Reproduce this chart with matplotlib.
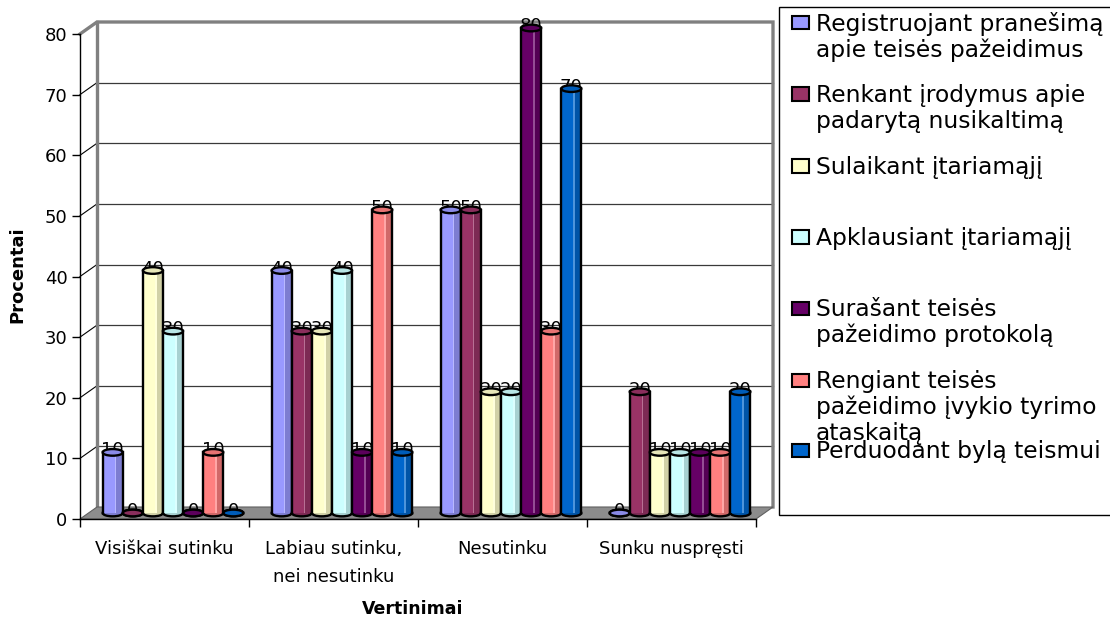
import matplotlib
matplotlib.use('Agg')
import matplotlib.pyplot as plt
from matplotlib.patches import Rectangle, Ellipse, Polygon
from matplotlib.colors import to_rgb
import numpy as np

plt.rcParams['font.family'] = ['DejaVu Sans']

categories = ['Visiškai sutinku', 'Labiau sutinku,\nnei nesutinku', 'Nesutinku', 'Sunku nuspręsti']

series_names = [
    'Registruojant pranešimą\napie teisės pažeidimus',
    'Renkant įrodymus apie\npadarytą nusikaltimą',
    'Sulaikant įtariamąjį',
    'Apklausiant įtariamąjį',
    'Surašant teisės\npažeidimo protokolą',
    'Rengiant teisės\npažeidimo įvykio tyrimo\nataskaitą',
    'Perduodant bylą teismui',
]
series_colors = ['#9999FF', '#993366', '#FFFFCC', '#CCFFFF', '#660066', '#FF8080', '#0066CC']

registruojant = [10, 40, 50, 0]
renkant = [0, 30, 50, 20]
sulaikant = [40, 30, 20, 10]
apklausiant = [30, 40, 20, 10]
surasant = [0, 10, 80, 10]
rengiant = [10, 50, 30, 10]
perduodant = [0, 10, 70, 20]
series_values = [registruojant, renkant, sulaikant, apklausiant, surasant, rengiant, perduodant]

y_ticks = list(range(0, 90, 10))

W, H = 1110, 618
fig = plt.figure(figsize=(W / 100, H / 100), dpi=100)
fig.patch.set_facecolor('white')

def fx(px):
    return px / W

def fy(py):
    return 1 - py / H

ax = fig.add_axes([fx(80), fy(519), (756 - 80) / W, (519 - 34) / H])
ax.set_xlim(-0.5, 3.5)
ax.set_ylim(0, 80)
ax.set_facecolor('none')

# depth of the 3d box, in data units
DX = 17 / 169.0
DY = 12 / (485 / 80.0)
BW = 20.1 / 169.0
EH = 1.1
LW = 1.7

grey = '#808080'
x0, x1 = -0.5, 3.5

# floor
ax.add_patch(Polygon([(x0, 0), (x1, 0), (x1 + DX, DY), (x0 + DX, DY)], closed=True,
                     fc='#8c8c8c', ec='#606060', lw=0.8, zorder=1, clip_on=False))
# back wall grid and frame
for t in y_ticks[1:-1]:
    ax.plot([x0 + DX, x1 + DX], [t + DY, t + DY], color='#3a3a3a', lw=0.9, zorder=0.5, clip_on=False)
    ax.plot([x0, x0 + DX], [t, t + DY], color='black', lw=0.8, zorder=0.5, clip_on=False)
ax.plot([x0, x0 + DX, x1 + DX, x1 + DX], [80, 80 + DY, 80 + DY, DY], color=grey, lw=2.4,
        zorder=0.6, clip_on=False, solid_joinstyle='miter')
ax.plot([x0 + DX, x0 + DX], [DY, 80 + DY], color=grey, lw=2.4, zorder=0.6, clip_on=False)


def cylinder(xc, h, color, z):
    c = np.array(to_rgb(color))
    dark = c * 0.82
    light = c + (1 - c) * 0.3
    yb = DY / 2
    ax.add_patch(Ellipse((xc, yb), BW, EH, fc=dark, ec='black', lw=LW, zorder=z, clip_on=False))
    if h > 0:
        left = xc - BW / 2
        ax.add_patch(Rectangle((left, yb), BW * 0.6, h, fc=c, lw=0, zorder=z + 0.001, clip_on=False))
        ax.add_patch(Rectangle((left + BW * 0.6, yb), BW * 0.08, h, fc=light, lw=0, zorder=z + 0.001, clip_on=False))
        ax.add_patch(Rectangle((left + BW * 0.68, yb), BW * 0.32, h, fc=dark, lw=0, zorder=z + 0.001, clip_on=False))
        ax.plot([left, left], [yb, yb + h], color='black', lw=LW, zorder=z + 0.002, clip_on=False)
        ax.plot([left + BW, left + BW], [yb, yb + h], color='black', lw=LW, zorder=z + 0.002, clip_on=False)
    ax.add_patch(Ellipse((xc, yb + h), BW, EH, fc=c * 0.9, ec='black', lw=LW, zorder=z + 0.003, clip_on=False))


n = len(series_values)
for i in range(len(categories)):
    for j, (vals, col) in enumerate(zip(series_values, series_colors)):
        xc = i + DX / 2 + (j - (n - 1) / 2) * BW
        v = vals[i]
        cylinder(xc, v, col, 3 + j * 0.01)
        ax.text(xc, v + DY / 2 - 0.5, str(v), ha='center', va='baseline', fontsize=13,
                zorder=2.5, clip_on=False)

# axes and ticks
for s in ['top', 'right']:
    ax.spines[s].set_visible(False)
for s in ['left', 'bottom']:
    ax.spines[s].set_color('black')
    ax.spines[s].set_linewidth(1)
    ax.spines[s].set_zorder(5)

ax.set_yticks(y_ticks)
ax.tick_params(axis='y', direction='out', length=6, width=1, pad=3, labelsize=13)
ax.set_xticks([x0, 0.5, 1.5, 2.5, x1])
ax.set_xticklabels([])
ax.tick_params(axis='x', which='major', direction='out', length=6, width=1)
ax.set_xticks(range(len(categories)), minor=True)
ax.set_xticklabels(categories, minor=True)
ax.tick_params(axis='x', which='minor', length=0, pad=15, labelsize=13)
for lab in ax.get_xticklabels(minor=True):
    lab.set_linespacing(1.7)

fig.text(fx(17), fy(275), 'Procentai', rotation=90, ha='center', va='center',
         fontsize=13, fontweight='bold')
fig.text(fx(413), fy(609), 'Vertinimai', ha='center', va='center',
         fontsize=12.5, fontweight='bold')

# legend box
fig.add_artist(Rectangle((fx(779), fy(515)), 1.0, (515 - 7) / H, transform=fig.transFigure,
                         fc='white', ec='black', lw=1))
legend_rows = [22.7, 94, 166, 237, 308, 380, 450]
line_step = 26
for name, col, ry in zip(series_names, series_colors, legend_rows):
    fig.add_artist(Rectangle((fx(792), fy(ry + 6.5)), 17 / W, 13 / H, transform=fig.transFigure,
                             fc=col, ec='black', lw=1.5))
    for k, line in enumerate(name.split('\n')):
        fig.text(fx(816), fy(ry + 8 + k * line_step), line, ha='left', va='baseline',
                 fontsize=16.8)

fig.savefig('out.png', dpi=100)
